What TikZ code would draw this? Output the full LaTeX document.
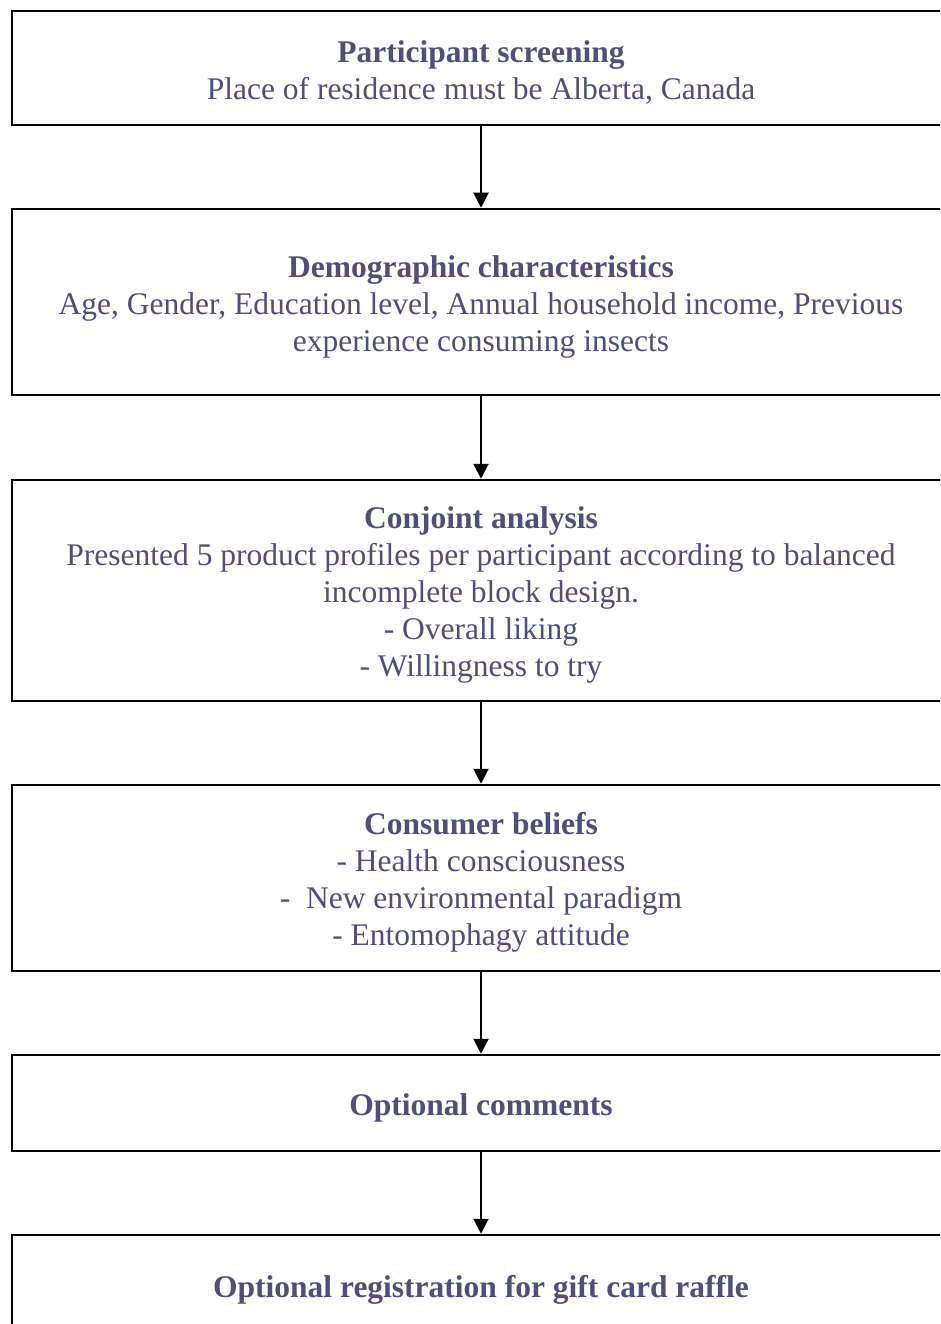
\documentclass[tikz,border=0pt]{standalone}
\usepackage{fontspec}
\setmainfont{Liberation Serif}
\usetikzlibrary{arrows.meta}
\definecolor{txt}{RGB}{80,78,122}
\newcommand{\stitle}[1]{\rule{0pt}{31pt}\textbf{#1}}
\begin{document}
\begin{tikzpicture}[x=1pt,y=-1pt,
  stagebox/.style={draw=black, line width=2.5pt, minimum width=938pt, align=center,
    inner sep=0pt, text=txt, font=\fontsize{31.5}{37}\selectfont},
  flow/.style={draw=black, line width=2pt, -{Triangle[width=15pt,length=15pt]}}]
\useasboundingbox (0,0) rectangle (940,1324);
\fill[white] (0,0) rectangle (940,1324);
\clip (0,0) rectangle (940,1324);
\node[stagebox, minimum height=114pt] (b1) at (481,68) {\stitle{Participant screening}\\Place of residence must be Alberta, Canada};
\node[stagebox, minimum height=186pt] (b2) at (481,302) {\stitle{Demographic characteristics}\\Age, Gender, Education level, Annual household income, Previous\\experience consuming insects};
\node[stagebox, minimum height=221pt] (b3) at (481,590.5) {\stitle{Conjoint analysis}\\Presented 5 product profiles per participant according to balanced\\incomplete block design.\\- Overall liking\\- Willingness to try};
\node[stagebox, minimum height=186pt] (b4) at (481,878) {\stitle{Consumer beliefs}\\- Health consciousness\\-\ \ New environmental paradigm\\- Entomophagy attitude};
\node[stagebox, minimum height=96pt] (b5) at (481,1103) {\stitle{Optional comments}};
\node[stagebox, minimum height=100pt] (b6) at (481,1285) {\stitle{Optional registration for gift card raffle}};
\draw[flow] (b1.south) -- (b2.north);
\draw[flow] (b2.south) -- (b3.north);
\draw[flow] (b3.south) -- (b4.north);
\draw[flow] (b4.south) -- (b5.north);
\draw[flow] (b5.south) -- (b6.north);
\end{tikzpicture}
\end{document}
